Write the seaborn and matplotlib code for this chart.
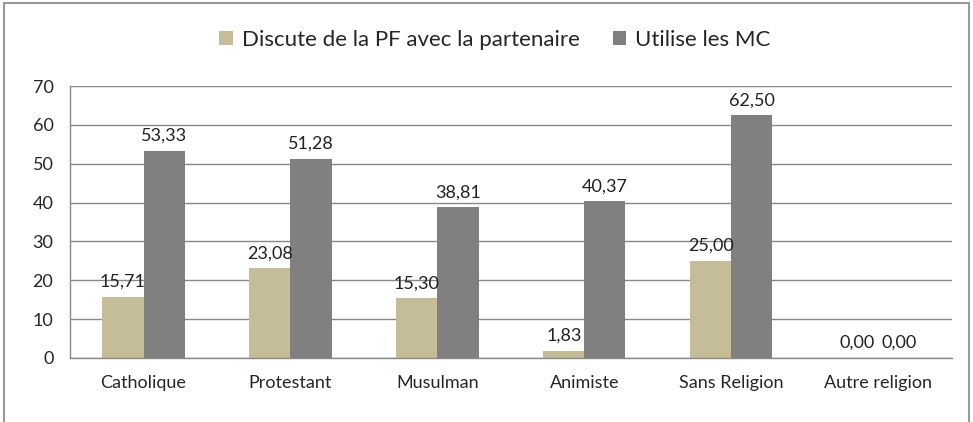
import seaborn as sns
import matplotlib.pyplot as plt
import pandas as pd
from matplotlib.patches import Rectangle

religions = ['Catholique', 'Protestant', 'Musulman', 'Animiste', 'Sans Religion', 'Autre religion']
discute_pf = [15.71, 23.08, 15.30, 1.83, 25.00, 0.00]
utilise_mc = [53.33, 51.28, 38.81, 40.37, 62.50, 0.00]
series = ['Discute de la PF avec la partenaire', 'Utilise les MC']
colors = ['#C4BD97', '#808080']

df = pd.DataFrame({
    'religion': religions * 2,
    'valeur': discute_pf + utilise_mc,
    'serie': [series[0]] * len(religions) + [series[1]] * len(religions),
})

sns.set_style('white')
plt.rcParams['font.family'] = ['Lato', 'DejaVu Sans']

fig = plt.figure(figsize=(9.73, 4.22), dpi=100)
ax = fig.add_axes([0.072, 0.152, 0.906, 0.644])

sns.barplot(data=df, x='religion', y='valeur', hue='serie',
            palette=colors, width=0.56, gap=0, ax=ax, saturation=1, linewidth=0)

# value labels with decimal commas
for cont in ax.containers:
    labs = [f'{b.get_height():.2f}'.replace('.', ',') for b in cont]
    ax.bar_label(cont, labels=labs, padding=5, fontsize=13, color='#222222')

ax.set_ylim(0, 70)
ax.set_yticks(range(0, 71, 10))
ax.set_xlim(-0.5, len(religions) - 0.5)
ax.yaxis.grid(True, color='#888888', linewidth=1)
ax.set_axisbelow(True)
ax.set_xlabel('')
ax.set_ylabel('')

for s in ['top', 'right']:
    ax.spines[s].set_visible(False)
for s in ['left', 'bottom']:
    ax.spines[s].set_color('#888888')
    ax.spines[s].set_linewidth(1)

ax.tick_params(axis='y', length=6, color='#888888', labelsize=13, pad=6)
ax.tick_params(axis='x', length=0, labelsize=13, pad=12)
# small ticks at category boundaries
ax.set_xticks([i - 0.5 for i in range(len(religions) + 1)], minor=True)
ax.tick_params(axis='x', which='minor', length=5, color='#888888', direction='out')

ax.legend(loc='lower center', bbox_to_anchor=(0.482, 1.06), ncol=2, frameon=False,
          fontsize=16, handlelength=0.6, handleheight=0.6, handletextpad=0.4,
          columnspacing=1.5)

fig.patches.append(Rectangle((0.004, -0.01), 0.992, 1.003, transform=fig.transFigure,
                             fill=False, edgecolor='#999999', linewidth=1.5))

fig.savefig('out.png', dpi=100)
